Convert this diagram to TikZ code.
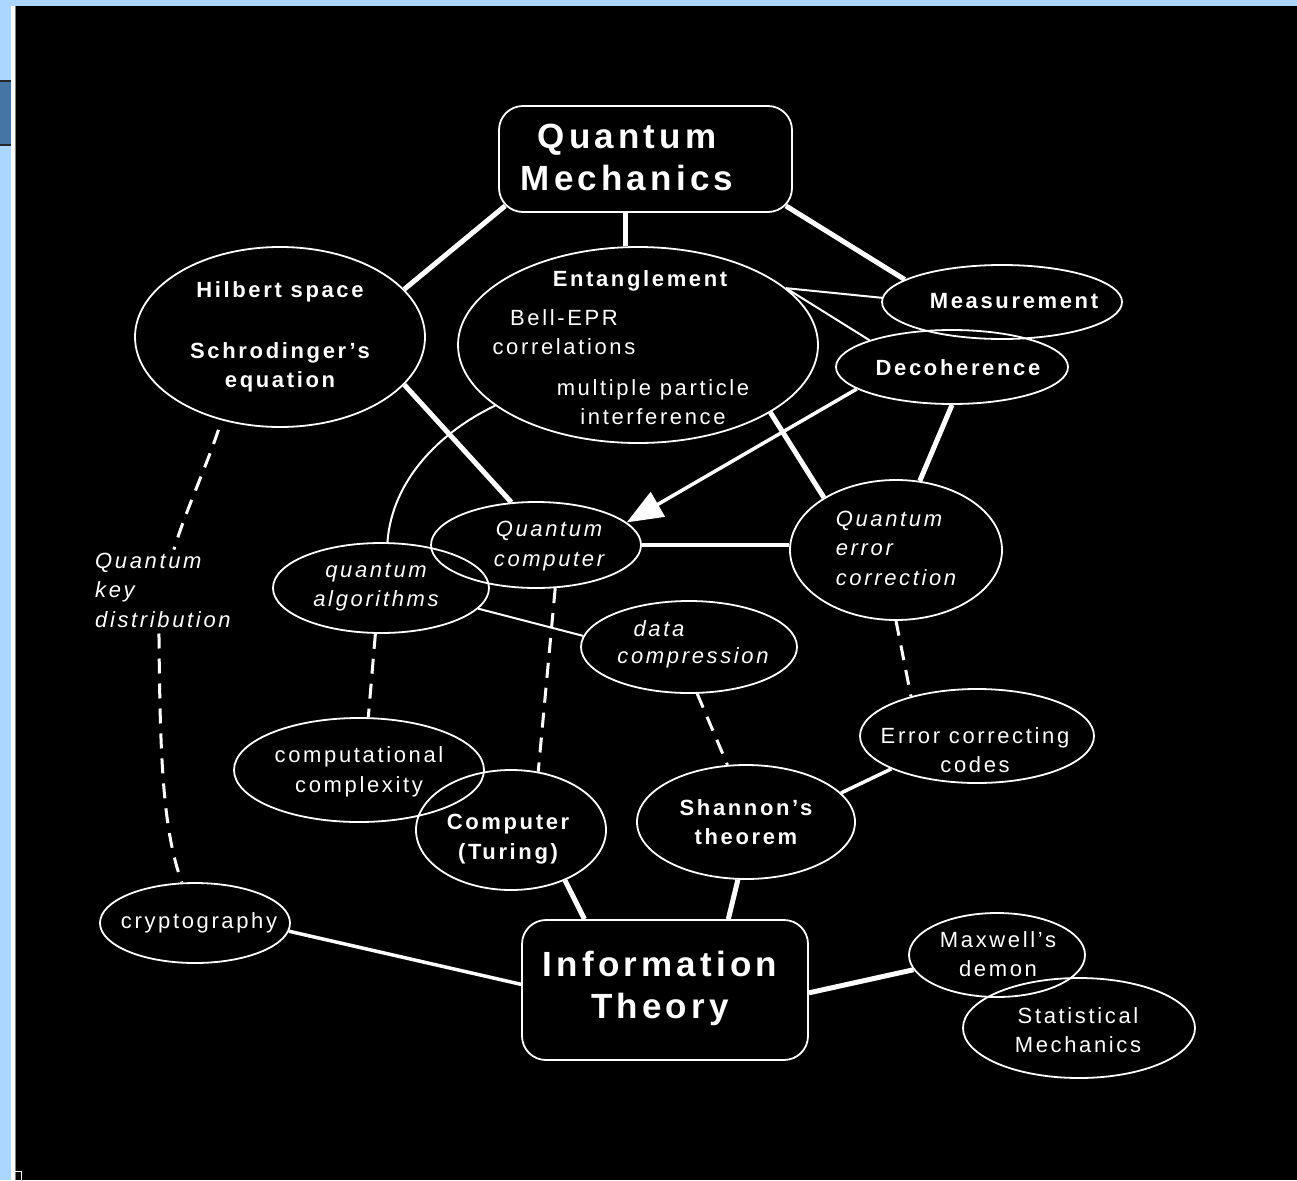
\documentclass[tikz,border=0pt]{standalone}
\usepackage{fontspec}
\setmainfont{Liberation Sans}[LetterSpace=12]
\usetikzlibrary{shapes.geometric,arrows.meta,calc}
\definecolor{bgblue}{HTML}{AAD6FF}
\definecolor{tabblue}{HTML}{4575A5}
\begin{document}
\begin{tikzpicture}[x=1pt,y=-1pt,
  ell/.style={draw=white,line width=1.8pt,ellipse,inner sep=0pt},
  rbox/.style={draw=white,line width=1.8pt,rectangle,rounded corners=24pt,inner sep=0pt},
  txt/.style={text=white,align=center,inner sep=0pt,font=\fontsize{22}{29.5}\selectfont},
  btxt/.style={txt,font=\fontsize{22}{29.5}\selectfont\bfseries},
  itxt/.style={txt,font=\fontsize{22}{29.5}\selectfont\itshape},
  htxt/.style={txt,font=\fontsize{35}{42}\selectfont\bfseries},
  wide/.style={draw=white,line width=5pt},
  mid/.style={draw=white,line width=3.5pt},
  fine/.style={draw=white,line width=2pt},
  dsh/.style={draw=white,line width=3pt,dash pattern=on 15pt off 10pt}]
\useasboundingbox (0,0) rectangle (1297,1180);
% window background
\fill[bgblue] (0,0) rectangle (1297,1180);
\fill[black] (15,6) rectangle (1297,1180);
\fill[white] (11,6) rectangle (14.5,1180);
\fill[gray] (14.5,6) rectangle (15.5,1180);
\fill[tabblue] (0,80) rectangle (11,146);
\fill[black!85] (0,80) rectangle (11,82.5);
\fill[black!85] (0,143.5) rectangle (11,146);
\draw[white,line width=1pt] (12.5,1180) -- (12.5,1171) -- (21,1171) -- (21,1180);

% boxes
\node[rbox,minimum width=293pt,minimum height=106pt] (qm) at (645.5,159) {};
\node[htxt] (qmT) at (627,157) {Quantum\\Mechanics};
\node[rbox,minimum width=286pt,minimum height=140pt] (it) at (665,990) {};
\node[htxt] (itT) at (660,988) {Information\\Theory};

% ellipses
\node[ell,minimum width=290pt,minimum height=180pt] (hil) at (280,337) {};
\node[ell,minimum width=360pt,minimum height=196pt] (ent) at (638,345) {};
\node[ell,minimum width=240pt,minimum height=74pt] (meas) at (1002,302) {};
\node[ell,minimum width=232pt,minimum height=74pt] (deco) at (952,367) {};
\node[ell,minimum width=210pt,minimum height=86pt] (qc) at (536,545) {};
\node[ell,minimum width=216pt,minimum height=90pt] (qa) at (381,588) {};
\node[ell,minimum width=212pt,minimum height=140pt] (qec) at (896,550) {};
\node[ell,minimum width=216pt,minimum height=92pt] (dc) at (689,647) {};
\node[ell,minimum width=250pt,minimum height=104pt] (cc) at (359,770) {};
\node[ell,minimum width=190pt,minimum height=120pt] (tur) at (511,830) {};
\node[ell,minimum width=218pt,minimum height=114pt] (sh) at (746,822) {};
\node[ell,minimum width=234pt,minimum height=94pt] (ecc) at (977,736) {};
\node[ell,minimum width=190pt,minimum height=80pt] (cr) at (195,923) {};
\node[ell,minimum width=176pt,minimum height=84pt] (mx) at (997,955) {};
\node[ell,minimum width=232pt,minimum height=100pt] (sm) at (1079,1028) {};

% texts
\node[btxt] (hilT) at (280,337) {Hilbert space\\[31.5pt]Schrodinger's\\equation};
\node[btxt] (entT) at (640,281) {Entanglement};
\node[txt] (bellT) at (564,332) {Bell-EPR\\correlations};
\node[txt] (mpiT) at (653,402) {multiple particle\\interference};
\node[btxt] (measT) at (1014,301) {Measurement};
\node[btxt] (decoT) at (958,368) {Decoherence};
\node[itxt] (qcT) at (549,546) {Quantum\\computer};
\node[itxt] (qaT) at (376,587) {quantum\\algorithms};
\node[itxt,align=left] (qecT) at (896,548) {Quantum\\error\\correction};
\node[itxt] (dcT1) at (659,629) {data};
\node[itxt] (dcT2) at (693,658) {compression};
\node[txt] (ccT) at (359,772) {computational\\complexity};
\node[btxt] (turT) at (508,839) {Computer\\(Turing)};
\node[btxt] (shT) at (746,822) {Shannon's\\theorem};
\node[txt] (eccT) at (975,750) {Error correcting\\codes};
\node[txt] (crT) at (199,923) {cryptography};
\node[txt] (mxT) at (998,954) {Maxwell's\\demon};
\node[txt] (smT) at (1078,1030) {Statistical\\Mechanics};
\node[itxt,align=left,anchor=west] (qkd) at (95,590) {Quantum\\key\\distribution};

% connectors
\draw[wide] ([xshift=7pt,yshift=7pt]qm.south west) -- (hil.21);
\draw[wide] (ent.97) -- (ent.97 |- qm.south);
\draw[wide] ([xshift=-7pt,yshift=7pt]qm.south east) -- (meas.167);
\draw[wide] (hil.-21) -- (qc.120);
\draw[fine] (ent.21) -- (meas.178);
\draw[fine] (ent.21) -- (deco.162);
\draw[wide] (ent.-27) -- (qec.144);
\draw[fine] (ent.203) .. controls (440,432) and (392,480) .. (qa.82);
\draw[wide] (deco.south) -- (qec.71);
\draw[mid,-{Triangle[length=36pt,width=28pt]}] (deco.193) -- (qc.14);
\draw[mid] (qc.east) -- (qc.east -| qec.west);
\draw[dsh] (qc.-66) -- (tur.65);
\draw[fine] (qa.-12) -- (dc.174);
\draw[dsh] (qa.-97) -- (cc.80);
\draw[dsh] (dc.-80) -- (sh.108);
\draw[dsh] (qec.south) -- (ecc.149);
\draw[mid] (ecc.201) -- (sh.17);
\draw[wide] (sh.-98) -- ($(it.north west)!0.72!(it.north east)$);
\draw[wide] (tur.-43) -- ($(it.north west)!0.22!(it.north east)$);
\draw[mid] (cr.-5) -- ($(it.north west)!0.46!(it.south west)$);
\draw[wide] ($(it.north east)!0.52!(it.south east)$) -- (mx.190);
\draw[dsh,shorten <=10pt] (hil.235) .. controls (205,470) and (186,510) .. ($(qkd.north)+(11,-3)$);
\draw[dsh,shorten <=6pt] ($(qkd.south)+(-4,0)$) .. controls (160,760) and (163,830) .. (cr.108);
\end{tikzpicture}
\end{document}
